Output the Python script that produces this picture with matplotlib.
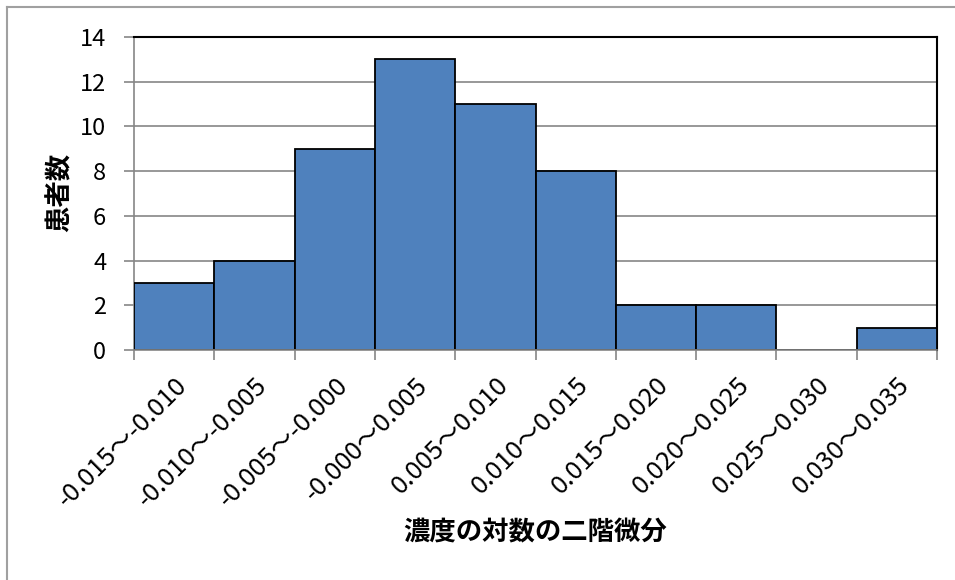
import numpy as np
import matplotlib.pyplot as plt
from matplotlib.lines import Line2D

plt.rcParams['font.family'] = ['Noto Sans CJK JP', 'DejaVu Sans']

# データ
bins = ['-0.015～-0.010', '-0.010～-0.005', '-0.005～-0.000', '-0.000～0.005',
        '0.005～0.010', '0.010～0.015', '0.015～0.020', '0.020～0.025',
        '0.025～0.030', '0.030～0.035']
counts = [3, 4, 9, 13, 11, 8, 2, 2, 0, 1]
yticks = [0, 2, 4, 6, 8, 10, 12, 14]

W, H = 955, 580
fig = plt.figure(figsize=(W / 100, H / 100), dpi=100)
ax = fig.add_axes([134 / W, 1 - 350 / H, (937 - 134) / W, (350 - 37) / H])

gray = '#868686'
x = np.arange(len(bins))
ax.bar(x, counts, width=1.0, color='#4F81BD', edgecolor='black', linewidth=1.3, zorder=3)

ax.set_xlim(-0.5, len(bins) - 0.5)
ax.set_ylim(0, 14)
ax.set_yticks(yticks)
ax.set_yticklabels([str(v) for v in yticks], fontsize=17)
ax.yaxis.grid(True, color=gray, linewidth=1.2, zorder=0)

# x目盛りは区間の境界に、ラベルは区間の中央に
ax.set_xticks(np.arange(len(bins) + 1) - 0.5)
ax.set_xticklabels([])
ax.set_xticks(x, minor=True)
ax.set_xticklabels(bins, minor=True, rotation=45, ha='right', va='top',
                   rotation_mode='anchor', fontsize=18.5)
ax.tick_params(axis='x', which='minor', length=0, pad=16)
ax.tick_params(axis='x', which='major', length=7, color=gray, width=1.2)
ax.tick_params(axis='y', length=7, color=gray, width=1.2, pad=13)

ax.spines['left'].set_color(gray)
ax.spines['bottom'].set_color(gray)
ax.spines['left'].set_linewidth(1.2)
ax.spines['bottom'].set_linewidth(1.2)
ax.spines['top'].set_color('black')
ax.spines['right'].set_color('black')
ax.spines['top'].set_linewidth(1.5)
ax.spines['right'].set_linewidth(1.5)
ax.spines['bottom'].set_zorder(4)

fig.text(535 / W, 1 - 533 / H, '濃度の対数の二階微分', ha='center', va='center',
         fontsize=19, fontweight='bold')
fig.text(60 / W, 1 - 192 / H, '患者数', ha='center', va='center', rotation=90,
         fontsize=19, fontweight='bold')

# チャート外枠
fig.add_artist(Line2D([7 / W, 7 / W], [0, 1 - 7 / H], color='#A0A0A0', linewidth=1.5))
fig.add_artist(Line2D([7 / W, 1], [1 - 7 / H, 1 - 7 / H], color='#A0A0A0', linewidth=1.5))

fig.savefig('out.png', dpi=100)
